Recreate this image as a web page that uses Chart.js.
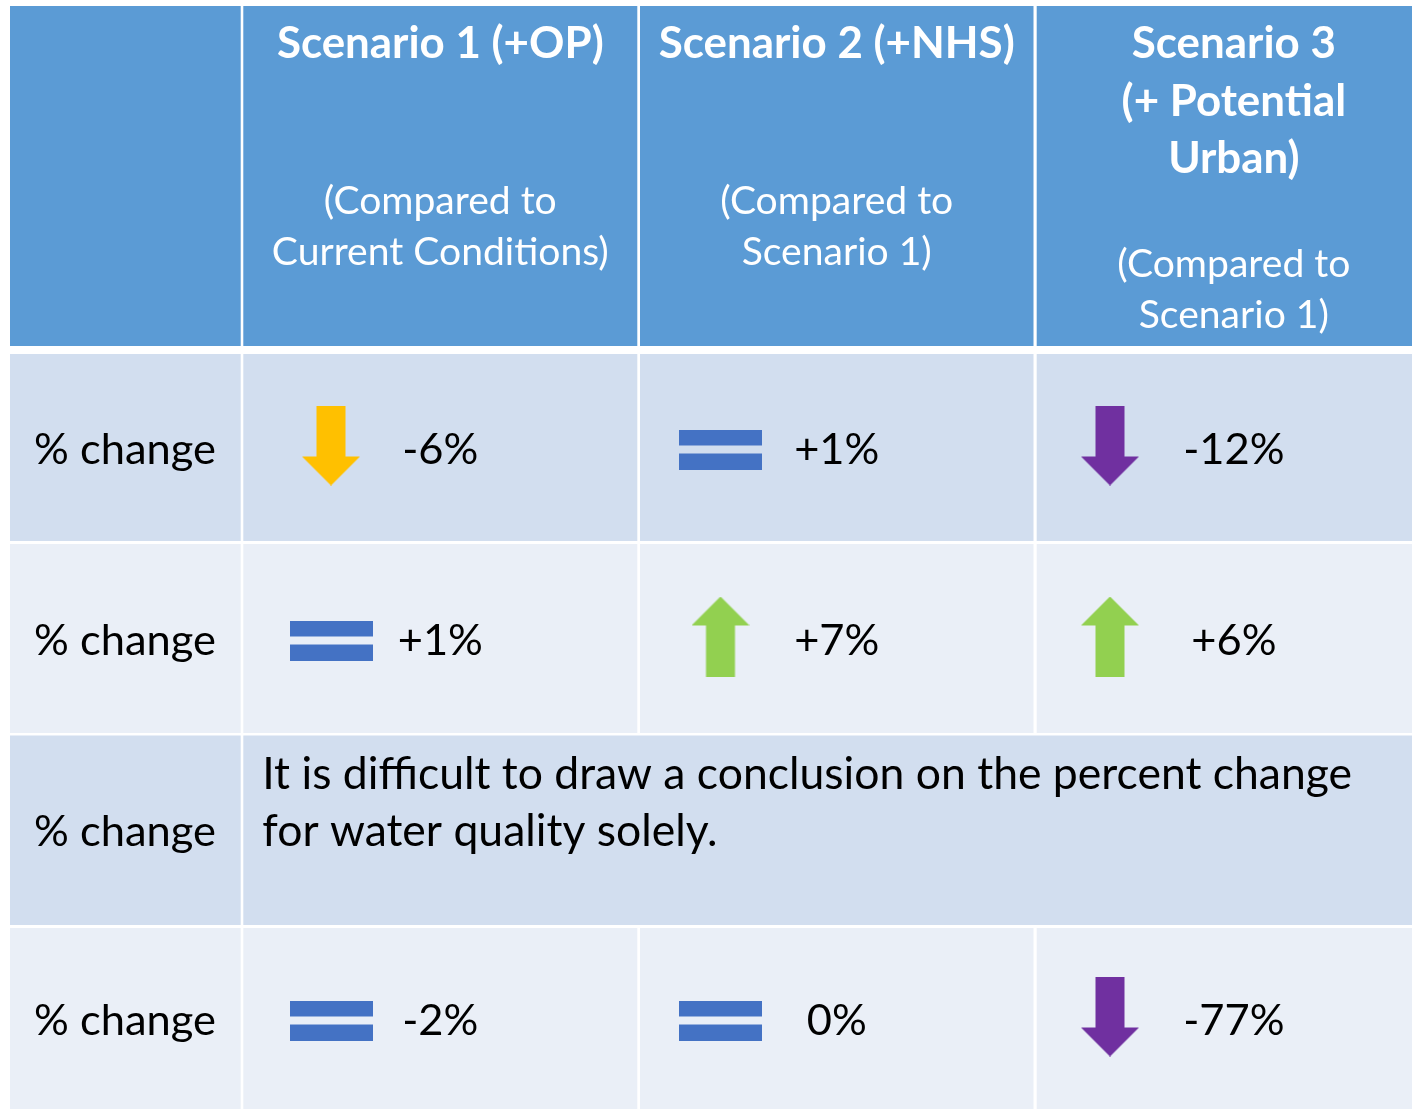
<!DOCTYPE html>
<html lang="en">
<head>
<meta charset="utf-8">
<title>Scenario % change</title>
<script src="https://cdn.jsdelivr.net/npm/chart.js@4.4.1/dist/chart.umd.min.js"></script>
<style>
    html, body { margin: 0; padding: 0; background: #ffffff; }
    canvas { display: block; }
</style>
</head>
<body>
<canvas id="tabla" width="1412" height="1111"></canvas>
<script>
const titulosEscenario = [
    ['Scenario 1 (+OP)'],
    ['Scenario 2 (+NHS)'],
    ['Scenario 3', '(+ Potential', 'Urban)']
];
const notasEscenario = [
    ['(Compared to', 'Current Conditions)'],
    ['(Compared to', 'Scenario 1)'],
    ['(Compared to', 'Scenario 1)']
];
const etiquetasFila = ['% change', '% change', '% change', '% change'];
const valoresEscenario1 = [-6, 1, null, -2];
const valoresEscenario2 = [1, 7, null, 0];
const valoresEscenario3 = [-12, 6, null, -77];
const iconosEscenario1 = ['bajaAmarilla', 'igual', null, 'igual'];
const iconosEscenario2 = ['igual', 'sube', null, 'igual'];
const iconosEscenario3 = ['bajaMorada', 'sube', null, 'bajaMorada'];
const textoFila3 = ['It is difficult to draw a conclusion on the percent change', 'for water quality solely.'];

const valores = [valoresEscenario1, valoresEscenario2, valoresEscenario3];
const iconos = [iconosEscenario1, iconosEscenario2, iconosEscenario3];

// Posiciones (en unidades de los ejes, que van 1:1 con el canvas)
const columnas = [[10, 240.7], [243.3, 637.3], [640, 1033.5], [1036.7, 1431]];
const encabezado = [6, 346];
const filas = [[354, 541], [544, 733], [735.5, 925], [928, 1109]];
const xIcono = [331, 720.5, 1110];
const baseTitulo = [58, 116, 173];
const baseNota = [[214, 265], [214, 265], [277, 328]];

const colores = {
    encabezado: '#5B9BD5',
    filaImpar: '#D2DEEF',
    filaPar: '#EAEFF7',
    texto: '#000000',
    textoEncabezado: '#FFFFFF'
};
const estilosIcono = {
    bajaAmarilla: { tipo: 'baja', color: '#FFC000', desplazamiento: -2 },
    bajaMorada: { tipo: 'baja', color: '#7030A0', desplazamiento: -2 },
    sube: { tipo: 'sube', color: '#92D050', desplazamiento: -2 },
    igual: { tipo: 'igual', color: '#4472C4', desplazamiento: 2 }
};
const FUENTE = 'Lato, "Open Sans", sans-serif';

// Ajusta el tamaño de letra para que el texto ocupe el ancho medido
const medidor = document.createElement('canvas').getContext('2d');
function tamanoParaAncho(texto, peso, ancho) {
    medidor.font = `${peso} 100px ${FUENTE}`;
    return 100 * ancho / medidor.measureText(texto).width;
}
const tamCuerpo = tamanoParaAncho('% change', 400, 182);
const tamNotaFila = tamanoParaAncho(textoFila3[0], 400, 1090);
const tamTitulo = tamanoParaAncho('Scenario 1 (+OP)', 700, 327);
const tamNota = tamanoParaAncho('Current Conditions)', 400, 337);

function crearIcono(tipo, color) {
    const c = document.createElement('canvas');
    const g = c.getContext('2d');
    if (tipo === 'igual') {
        c.width = 83; c.height = 40;
        g.fillStyle = color;
        g.fillRect(0, 0, 83, 16);
        g.fillRect(0, 24, 83, 16);
        return c;
    }
    c.width = 58; c.height = 80;
    g.fillStyle = color;
    g.beginPath();
    if (tipo === 'baja') {
        g.moveTo(14.5, 0); g.lineTo(43.5, 0); g.lineTo(43.5, 51); g.lineTo(58, 51);
        g.lineTo(29, 80); g.lineTo(0, 51); g.lineTo(14.5, 51);
    } else {
        g.moveTo(29, 0); g.lineTo(58, 29); g.lineTo(43.5, 29); g.lineTo(43.5, 80);
        g.lineTo(14.5, 80); g.lineTo(14.5, 29); g.lineTo(0, 29);
    }
    g.closePath();
    g.fill();
    return c;
}

function textoValor(v) {
    return (v > 0 ? '+' : '') + v + '%';
}

function centroFila(f) {
    return (filas[f][0] + filas[f][1]) / 2;
}

// Un dataset por tipo de icono
const datasets = Object.keys(estilosIcono).map(clave => {
    const puntos = [];
    iconos.forEach((lista, esc) => {
        lista.forEach((icono, f) => {
            if (icono === clave) {
                puntos.push({ x: xIcono[esc], y: centroFila(f) + estilosIcono[clave].desplazamiento });
            }
        });
    });
    return {
        label: clave,
        data: puntos,
        pointStyle: crearIcono(estilosIcono[clave].tipo, estilosIcono[clave].color),
        pointRadius: 20,
        pointHoverRadius: 20
    };
});

const pluginTabla = {
    id: 'pluginTabla',
    beforeDatasetsDraw(chart) {
        const { ctx, scales: { x, y } } = chart;
        ctx.save();
        const rect = (x0, x1, y0, y1, color) => {
            const px0 = x.getPixelForValue(x0), px1 = x.getPixelForValue(x1);
            const py0 = y.getPixelForValue(y0), py1 = y.getPixelForValue(y1);
            ctx.fillStyle = color;
            ctx.fillRect(px0, py0, px1 - px0, py1 - py0);
        };
        columnas.forEach(col => rect(col[0], col[1], encabezado[0], encabezado[1], colores.encabezado));
        filas.forEach((fila, f) => {
            const color = f % 2 === 0 ? colores.filaImpar : colores.filaPar;
            rect(columnas[0][0], columnas[0][1], fila[0], fila[1], color);
            if (f === 2) {
                // fila combinada
                rect(columnas[1][0], columnas[3][1], fila[0], fila[1], color);
            } else {
                for (let c = 1; c < columnas.length; c++) {
                    rect(columnas[c][0], columnas[c][1], fila[0], fila[1], color);
                }
            }
        });
        ctx.restore();
    },
    afterDatasetsDraw(chart) {
        const { ctx, scales: { x, y } } = chart;
        ctx.save();
        ctx.textBaseline = 'alphabetic';

        // Encabezados
        ctx.fillStyle = colores.textoEncabezado;
        ctx.textAlign = 'center';
        titulosEscenario.forEach((lineas, esc) => {
            const col = columnas[esc + 1];
            const cx = x.getPixelForValue((col[0] + col[1]) / 2);
            ctx.font = `700 ${tamTitulo}px ${FUENTE}`;
            lineas.forEach((linea, i) => ctx.fillText(linea, cx, y.getPixelForValue(baseTitulo[i])));
            ctx.font = `400 ${tamNota}px ${FUENTE}`;
            notasEscenario[esc].forEach((linea, i) => ctx.fillText(linea, cx, y.getPixelForValue(baseNota[esc][i])));
        });

        // Etiquetas de fila
        ctx.fillStyle = colores.texto;
        ctx.textAlign = 'left';
        ctx.font = `400 ${tamCuerpo}px ${FUENTE}`;
        etiquetasFila.forEach((etiqueta, f) => {
            ctx.fillText(etiqueta, x.getPixelForValue(columnas[0][0] + 24), y.getPixelForValue(centroFila(f) + 16));
        });

        // Valores
        ctx.textAlign = 'center';
        valores.forEach((lista, esc) => {
            const col = columnas[esc + 1];
            const cx = x.getPixelForValue((col[0] + col[1]) / 2);
            lista.forEach((v, f) => {
                if (v === null) return;
                ctx.fillText(textoValor(v), cx, y.getPixelForValue(centroFila(f) + 16));
            });
        });

        // Texto de la fila combinada
        ctx.textAlign = 'left';
        ctx.font = `400 ${tamNotaFila}px ${FUENTE}`;
        textoFila3.forEach((linea, i) => {
            ctx.fillText(linea, x.getPixelForValue(columnas[1][0] + 19), y.getPixelForValue(centroFila(2) - 41 + i * 57));
        });
        ctx.restore();
    }
};

new Chart(document.getElementById('tabla'), {
    type: 'scatter',
    data: { datasets: datasets },
    options: {
        responsive: false,
        maintainAspectRatio: false,
        devicePixelRatio: 1,
        animation: false,
        events: [],
        layout: { padding: 0, autoPadding: false },
        plugins: {
            legend: { display: false },
            tooltip: { enabled: false }
        },
        scales: {
            x: { type: 'linear', min: 0, max: 1412, display: false },
            y: { type: 'linear', min: 0, max: 1111, reverse: true, display: false }
        }
    },
    plugins: [pluginTabla]
});
</script>
</body>
</html>
